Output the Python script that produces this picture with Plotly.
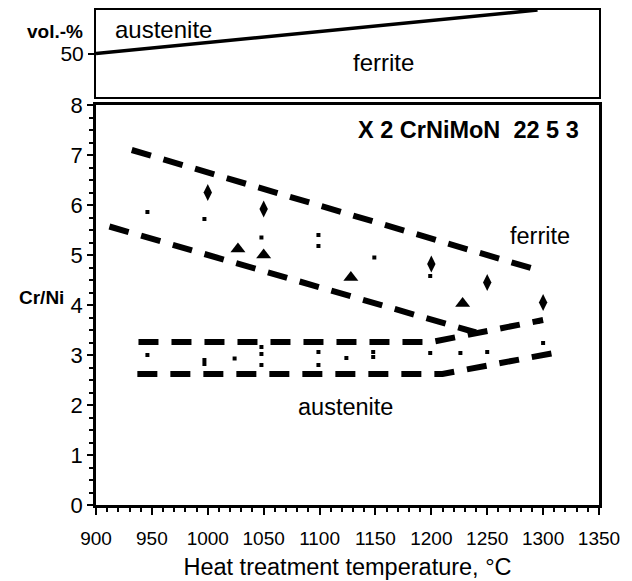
import plotly.graph_objects as go

# ---- data ----
vol_T = [900, 1295]
vol_pct = [50, 100]

ferrite_upper_T = [932, 1295]
ferrite_upper_R = [7.1, 4.7]
ferrite_lower_T = [912, 1240]
ferrite_lower_R = [5.57, 3.45]
aust_upper_T = [938, 1200, 1300]
aust_upper_R = [3.26, 3.26, 3.7]
aust_lower_T = [937, 1210, 1312]
aust_lower_R = [2.62, 2.62, 3.05]

diamond_T = [1000, 1050, 1200, 1250, 1300]
diamond_R = [6.25, 5.92, 4.82, 4.45, 4.05]
triangle_T = [1027, 1050, 1128, 1228]
triangle_R = [5.12, 5.0, 4.55, 4.03]
dot_T = [946, 997, 1048, 1099, 1099, 1149, 1199, 1295,
         946, 997, 997, 1024, 1048, 1048, 1048, 1099, 1099, 1124, 1148, 1148,
         1199, 1226, 1250, 1300]
dot_R = [5.86, 5.72, 5.35, 5.4, 5.18, 4.95, 4.58, 3.66,
         3.0, 2.9, 2.82, 2.93, 3.16, 3.02, 2.8, 3.06, 2.8, 2.94, 3.06, 2.96,
         3.04, 3.04, 3.06, 3.24]

x_ticks = list(range(900, 1351, 50))
y_ticks = list(range(0, 9))

FONT = "Liberation Sans, Arial, sans-serif"
DASH = "20px,13px"

fig = go.Figure()

fig.add_trace(go.Scatter(x=vol_T, y=vol_pct, mode="lines", xaxis="x2", yaxis="y2",
                         line=dict(color="black", width=3.5), showlegend=False))

for T, R in [(ferrite_upper_T, ferrite_upper_R), (ferrite_lower_T, ferrite_lower_R),
             (aust_upper_T, aust_upper_R), (aust_lower_T, aust_lower_R)]:
    fig.add_trace(go.Scatter(x=T, y=R, mode="lines",
                             line=dict(color="black", width=6, dash=DASH),
                             showlegend=False))

fig.add_trace(go.Scatter(x=diamond_T, y=diamond_R, mode="markers",
                         marker=dict(symbol="diamond-tall", size=12, color="black"),
                         showlegend=False))
fig.add_trace(go.Scatter(x=triangle_T, y=triangle_R, mode="markers",
                         marker=dict(symbol="triangle-up", size=13, color="black"),
                         showlegend=False))
fig.add_trace(go.Scatter(x=dot_T, y=dot_R, mode="markers",
                         marker=dict(symbol="square", size=4, color="black"),
                         showlegend=False))

# page body has an 8px margin; target plot area in window pixels:
# x 96..599, main y 105..505, top box y 10..97
W, H = 632, 581
OFF = 8
L, R_, T_, B = 96 - OFF, 632 - 599 + OFF, 10 - OFF, 581 - 505 + OFF
ph = 505 - 10
main_top = (505 - 105) / ph
top_bot = (505 - 97) / ph

def px(x):
    return (x - 96) / (599 - 96)

def py(y):
    return (505 - y) / ph

fig.update_layout(
    width=W, height=H,
    margin=dict(l=L, r=R_, t=T_, b=B, autoexpand=False),
    paper_bgcolor="white", plot_bgcolor="white",
    font=dict(family=FONT, color="black", size=20),
    xaxis=dict(range=[900, 1350], domain=[0, 1], anchor="y", automargin=False,
               tickvals=x_ticks, ticks="outside", ticklen=7, tickwidth=1.5,
               tickcolor="black", showline=True, linewidth=2.5, linecolor="black",
               mirror=True, showgrid=False, zeroline=False,
               tickfont=dict(size=19), ticklabelstandoff=7,
               minor=dict(dtick=10, ticks="outside", ticklen=4, tickwidth=1.5,
                          tickcolor="black", showgrid=False),
               title=dict(text="Heat treatment temperature, °C",
                          font=dict(size=23.5), standoff=12)),
    yaxis=dict(range=[0, 8], domain=[0, main_top], anchor="x", automargin=False,
               tickvals=y_ticks, ticks="outside", ticklen=6, tickwidth=1.5,
               tickcolor="black", showline=True, linewidth=2.5, linecolor="black",
               mirror=True, showgrid=False, zeroline=False,
               tickfont=dict(size=22),
               minor=dict(dtick=0.25, ticks="outside", ticklen=4, tickwidth=1.5,
                          tickcolor="black", showgrid=False)),
    xaxis2=dict(range=[900, 1350], domain=[0, 1], anchor="y2", automargin=False,
                showticklabels=False, ticks="", showline=True, linewidth=2,
                linecolor="black", mirror=True, showgrid=False, zeroline=False),
    yaxis2=dict(range=[0, 100], domain=[top_bot, 1], anchor="x2", automargin=False,
                tickvals=[50], ticktext=["50"], ticks="outside", ticklen=6,
                tickwidth=1.5, tickcolor="black", showline=True, linewidth=2,
                linecolor="black", mirror=True, showgrid=False, zeroline=False,
                tickfont=dict(size=21)),
    annotations=[
        dict(text="<b>vol.-%</b>", xref="paper", yref="paper", x=px(84), y=py(43),
             xanchor="right", yanchor="bottom", showarrow=False, font=dict(size=19),
             borderpad=0),
        dict(text="austenite", xref="x2", yref="y2", x=960, y=78,
             showarrow=False, font=dict(size=24)),
        dict(text="ferrite", xref="x2", yref="y2", x=1157, y=40,
             showarrow=False, font=dict(size=24)),
        dict(text="<b>Cr/Ni</b>", xref="paper", yref="paper", x=px(66), y=py(297),
             xanchor="right", yanchor="middle", showarrow=False, font=dict(size=19)),
        dict(text="<b>X 2 CrNiMoN\u00a0\u00a022 5 3</b>", xref="x", yref="y",
             x=1334, y=7.5, xanchor="right", yanchor="middle", showarrow=False,
             font=dict(size=23.5)),
        dict(text="ferrite", xref="x", yref="y", x=1297, y=5.38,
             showarrow=False, font=dict(size=23.5)),
        dict(text="austenite", xref="x", yref="y", x=1123, y=1.96,
             showarrow=False, font=dict(size=23.5)),
    ],
)

fig.write_html("out.html")
